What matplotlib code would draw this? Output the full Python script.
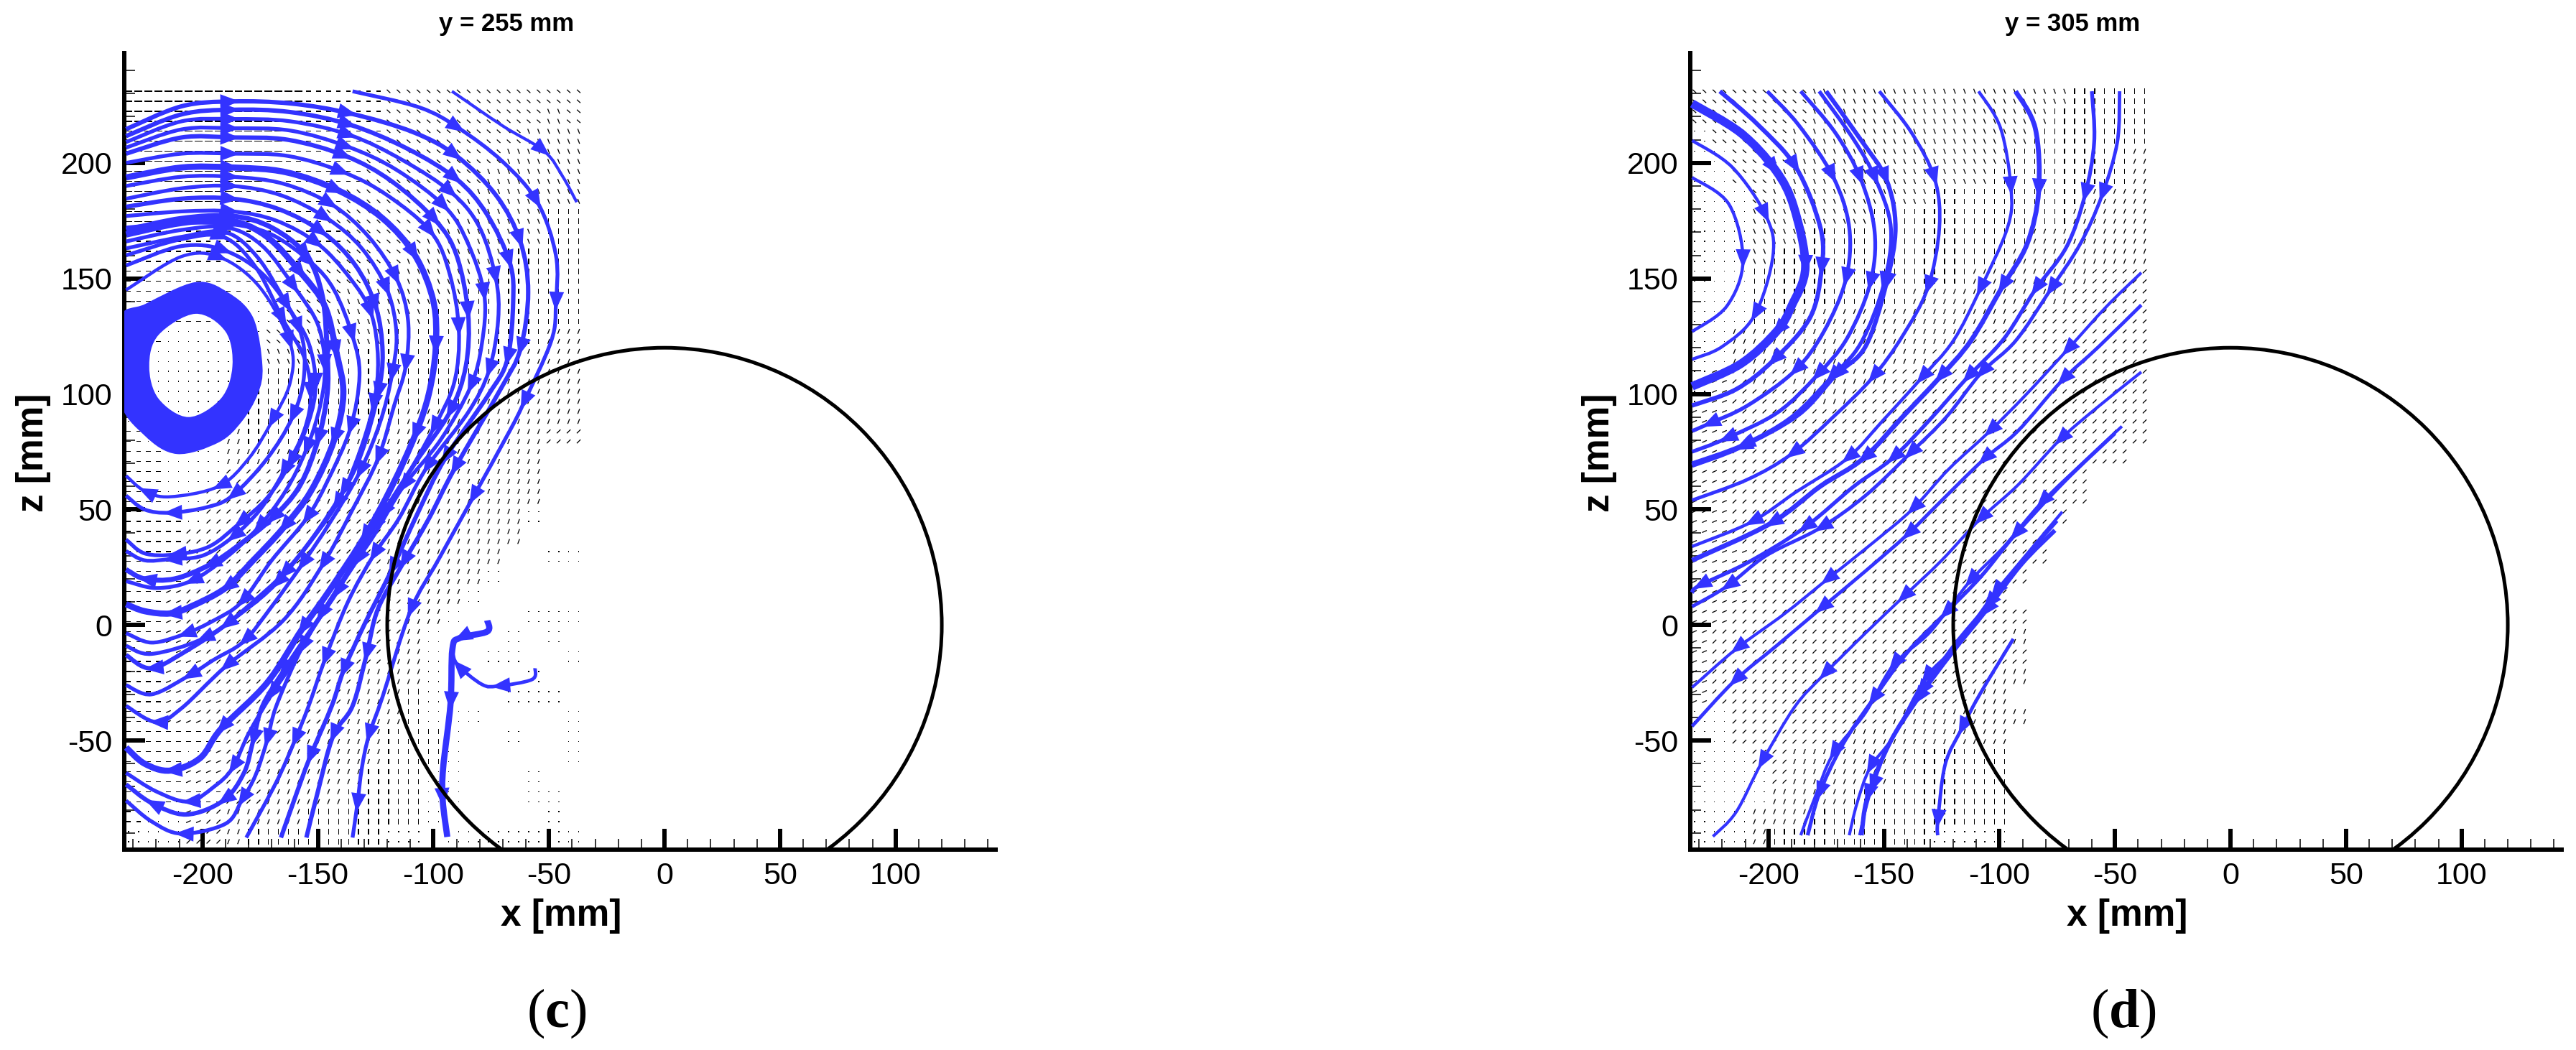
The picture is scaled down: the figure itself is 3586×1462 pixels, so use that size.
import numpy as np
import matplotlib
matplotlib.use('Agg')
import matplotlib.pyplot as plt
from matplotlib.path import Path
from matplotlib.patches import PathPatch, Circle
from matplotlib.ticker import MultipleLocator

plt.rcParams['font.family'] = ['Liberation Sans', 'DejaVu Sans']
plt.rcParams['mathtext.fontset'] = 'custom'
plt.rcParams['mathtext.rm'] = 'Liberation Serif'
plt.rcParams['mathtext.bf'] = 'Liberation Serif:bold'
plt.rcParams['axes.unicode_minus'] = False

BLUE = '#3333ff'

# Streamlines, (x, z) in mm
c_lines = [
    [(-92, 231), (-70, 216), (-52, 205), (-44, 194), (-38, 183)],
    [(-135, 231), (-106, 224), (-89, 215), (-70, 200.5), (-55, 183), (-47, 160), (-47, 139), (-49, 123), (-61, 96), (-67, 84), (-83, 55), (-98, 28), (-110, 6), (-122, -31), (-128, -48), (-131, -62), (-133, -78), (-135, -92)],
    [(-233, 214.6), (-209, 224.5), (-187, 226.6), (-161.6, 225.7), (-136, 221.4), (-109, 213.4), (-90, 203), (-72.7, 185.7), (-62.4, 166), (-59, 144), (-62.4, 119.3), (-71, 102), (-91, 67.4), (-102, 46), (-113, 27), (-124, 7), (-129, -13), (-135, -35), (-143.4, -48), (-150, -72), (-155, -92)],
    [(-233, 211.6), (-209, 221), (-187, 223), (-162, 222), (-136, 216.5), (-111, 206), (-90, 193), (-77, 178), (-67, 157), (-65.5, 140), (-68, 115), (-76, 100), (-95, 72), (-107, 48), (-118, 24), (-130, 0), (-139, -20), (-144, -35), (-153.6, -57.6), (-160, -75), (-166, -92)],
    [(-233, 209), (-209, 218), (-187, 219), (-162, 218), (-136, 212), (-113, 201), (-92, 187), (-80, 172), (-73, 150), (-72, 132), (-76, 110), (-85, 92), (-103, 68), (-115, 46), (-126, 30), (-137, 10), (-147, -15), (-154, -35), (-160, -50), (-168, -68), (-181, -92)],
    [(-233, 206.6), (-209, 214.5), (-187, 215), (-162, 214), (-137, 207), (-116, 197), (-95, 181), (-85, 165), (-78, 143), (-79, 122), (-84, 103), (-97, 80), (-113, 60), (-125, 40), (-133, 28), (-146, 8), (-157, -10), (-168, -35), (-172, -50), (-177, -65), (-183, -76), (-190, -86), (-209, -90.3), (-222, -85), (-233, -76)],
    [(-233, 204), (-209, 211), (-187, 211), (-163, 210), (-138, 203), (-118, 192), (-99, 175), (-90, 160), (-85, 135), (-86, 112), (-93, 92), (-108, 70), (-122, 48), (-133, 30), (-142, 14), (-155, -5), (-165, -20), (-174, -35), (-178, -50), (-182, -64), (-191, -76), (-207, -82), (-222, -77), (-233, -69)],
    [(-233, 200), (-209, 204), (-187, 204), (-163, 203), (-139, 196), (-120, 186), (-101, 170), (-93, 152), (-89, 128), (-91, 105), (-100, 85), (-113, 62), (-126, 42), (-139, 20), (-149, 4), (-160, -15), (-170, -30), (-180, -47), (-187, -62), (-195, -70), (-206, -76.4), (-220, -72), (-233, -64)],
    [(-233, 193.7), (-209, 198), (-187, 198), (-164, 196), (-141, 188), (-122, 176), (-108, 160), (-100, 140), (-99, 120), (-102, 100), (-108, 82), (-118, 60), (-130, 38), (-145, 15), (-157, -2), (-172, -25), (-192, -45), (-201, -57.6), (-214, -63), (-225, -60), (-233, -53)],
    [(-233, 190), (-209, 194), (-187, 194), (-165, 191), (-144, 182), (-128, 168), (-116, 150), (-111, 132), (-112, 112), (-117, 95), (-124, 72), (-135, 50), (-148, 26), (-165, 2), (-190, -18), (-209, -36), (-220, -42), (-233, -35)],
    [(-233, 184.5), (-209, 189), (-187, 190), (-166, 186), (-146, 176), (-131, 163), (-120, 145), (-116, 126), (-118, 108), (-123, 88), (-132, 66), (-145, 44), (-157, 26), (-170, 8), (-182, -7), (-195, -15), (-206, -22), (-222, -30), (-233, -26)],
    [(-233, 181), (-209, 184.5), (-187, 184.5), (-167, 180), (-148, 170), (-134, 156), (-125, 138), (-122, 118), (-124, 100), (-131, 75), (-139, 58), (-152, 38), (-165, 22), (-178, 10), (-190, 0), (-205, -10), (-222, -18.7), (-233, -13)],
    [(-233, 177), (-209, 179), (-187, 179), (-168, 175), (-150, 165), (-136, 150), (-127, 135), (-124, 115), (-126, 95), (-133, 72), (-142, 52), (-155, 34), (-168, 18), (-182, 6), (-200, -6), (-222, -12.5), (-233, -9)],
    [(-233, 172), (-209, 174), (-187, 173.4), (-170, 169), (-153, 157), (-143, 145), (-135, 125), (-132, 108), (-136, 85), (-146, 62), (-155, 46), (-170, 28), (-183, 10), (-195, 2), (-208, -4), (-222, -7.6), (-233, -3.5)],
    [(-233, 171), (-209, 176), (-187, 177), (-170, 172), (-155, 160), (-148, 142), (-146, 118), (-146, 100), (-150, 80), (-158, 60), (-170, 46), (-185, 34), (-197, 26), (-212, 20), (-225, 20), (-233, 24)],
    [(-233, 169), (-209, 174), (-188, 175), (-172, 168), (-157, 152), (-147, 138), (-142, 118), (-139, 100), (-143, 80), (-153, 58), (-165, 42), (-178, 28), (-190, 16), (-205, 8), (-214, 5), (-225, 6), (-233, 9)],
    [(-233, 166), (-209, 171), (-189, 172), (-174, 164), (-160, 146), (-150, 130), (-147, 112), (-149, 95), (-155, 76), (-164, 58), (-176, 42), (-190, 29), (-205, 19), (-220, 16), (-233, 19)],
    [(-233, 163), (-209, 168), (-190, 170), (-176, 159), (-163, 138), (-154, 122), (-151, 104), (-154, 88), (-162, 70), (-172, 55), (-184, 44), (-197, 34), (-212, 30.5), (-225, 31), (-233, 37)],
    [(-233, 160), (-209, 167), (-191, 168), (-177, 155), (-165, 132), (-156, 116), (-153, 100), (-156, 84), (-165, 66), (-175, 50), (-187, 38), (-200, 30), (-214, 28.5), (-225, 28), (-233, 32)],
    [(-233, 155.6), (-209, 164), (-190, 162), (-172, 150), (-158, 128), (-156, 108), (-161, 90), (-172, 72), (-187, 56), (-198, 51), (-214, 48.6), (-225, 50), (-233, 56)],
    [(-233, 145), (-209, 159.5), (-192, 159), (-175, 146), (-162, 122), (-162, 105), (-170, 88), (-180, 72), (-193, 60), (-214, 55.5), (-225, 58), (-233, 64.6)],
    [(-76.7, 2), (-76.7, -2.8), (-88.6, -5.6), (-91.8, -10.4), (-92.6, -34), (-95.8, -61.8), (-96, -75.7), (-94, -91.7)],
    [(-56, -18.7), (-57.4, -23.6), (-72, -26.4), (-79, -25.7), (-89.4, -17.4), (-91.8, -11.8)],
]
c_widths = [3, 3.8, 4.4, 4.4, 3.8, 3.8, 4.4, 3.8, 6.2, 3.8, 3.8, 4.4, 3.8, 3.8, 5, 6.2, 3.8, 3.8, 3.8, 3.8, 3.2, 6.2, 3.5]

d_lines = [
    [(-233, 193.7), (-217, 182), (-211, 157.4), (-218, 138), (-233, 127)],
    [(-233, 209.7), (-215.5, 198), (-201, 177), (-198, 160), (-206, 134), (-220, 120.5), (-233, 115)],
    [(-233, 225.7), (-212, 213), (-197, 197), (-189, 181), (-184, 155), (-190, 138), (-196.5, 127), (-212, 113), (-233, 103.3)],
    [(-221, 231), (-204.5, 216.5), (-188, 198), (-177.5, 172), (-177, 154), (-182, 133), (-198, 114.4), (-214, 102), (-233, 95)],
    [(-200.5, 231), (-187, 216.5), (-172, 194), (-165, 172), (-166.5, 149.5), (-176, 127), (-188.6, 110), (-209, 95), (-226, 87), (-233, 84)],
    [(-186, 231), (-171, 213), (-160, 193), (-154, 170), (-156, 147.6), (-166, 124), (-179, 108), (-196, 92), (-218.6, 80.6), (-233, 75)],
    [(-178, 231), (-163, 210), (-153.6, 193), (-147, 172), (-150, 147.6), (-160, 122), (-173, 107), (-190, 90), (-211, 78), (-233, 70)],
    [(-175, 231), (-160, 210), (-149, 193), (-145, 172), (-149, 147.6), (-158, 120.5), (-171, 108), (-187, 91), (-212, 77), (-233, 69)],
    [(-152, 231), (-138, 213), (-128, 193), (-126, 172), (-131, 146), (-142, 125), (-155, 107), (-172, 90), (-190, 74), (-209, 63), (-233, 54)],
    [(-109, 231), (-99.5, 215), (-95, 189), (-96.5, 172), (-108.5, 145), (-120, 123), (-134, 106.6), (-150, 89), (-166, 72), (-188, 57.6), (-207.5, 44.5), (-233, 34)],
    [(-93, 231), (-84.5, 215), (-83, 188), (-88, 165), (-99, 146), (-112.4, 123), (-126, 107), (-142, 90), (-159, 72), (-177.6, 60), (-199, 44), (-233, 28)],
    [(-60, 231), (-59, 209), (-63, 186), (-71, 163.6), (-84.6, 145), (-98, 124), (-114, 107), (-130, 89), (-146.5, 72), (-163, 60), (-184.6, 42), (-209, 27), (-230, 17), (-233, 14)],
    [(-48, 231), (-49, 209), (-55.6, 186), (-65, 165), (-78, 145), (-93, 123), (-108, 109), (-123, 90), (-139, 74), (-158, 56), (-177.6, 42), (-201, 30), (-218, 16.7), (-233, 8)],
    [(-38.6, 152.5), (-53.7, 137.8), (-71, 118.7), (-88.6, 99.6), (-104.5, 83.6), (-122, 67.4), (-137.8, 50), (-155, 35.4), (-175, 19.4), (-193, 4.9), (-214, -10.4), (-233, -27)],
    [(-38.6, 138.5), (-57, 120.5), (-73, 105.7), (-92, 84), (-107, 71.5), (-127.5, 51.4), (-140, 39), (-158.4, 23), (-177.5, 7), (-196.5, -9), (-214.8, -24.3), (-233, -43.8)],
    [(-38.6, 109.5), (-58.5, 93.5), (-74, 80), (-92, 60.6), (-108.5, 45.7), (-125, 28), (-142, 11.8), (-158, -3.5), (-176, -21.5), (-188.6, -35.4), (-203, -59.7), (-214, -81), (-224, -91.5)],
    [(-47, 86), (-62, 72), (-82, 52.8), (-98, 34), (-113, 18.7), (-130, -3), (-146, -17.4), (-158, -38), (-172, -55.8), (-180, -75), (-186, -91)],
    [(-50, 83), (-72, 62), (-93.4, 38.9), (-108, 21), (-123.6, 4.9), (-140, -12), (-155, -32.6), (-168, -52), (-178, -73), (-183, -91)],
    [(-72.8, 49), (-90, 28.5), (-102, 13.9), (-118.8, -9), (-132, -23), (-145.7, -48), (-156, -61.8), (-161.6, -77), (-165, -91)],
    [(-76, 41), (-90.4, 26.4), (-106, 6), (-120.4, -11.8), (-135.4, -32), (-147.3, -50.7), (-157, -74), (-159.7, -91)],
    [(-75, 45), (-89, 29), (-105, 9), (-120, -9), (-134, -29), (-147, -50), (-155, -70), (-158, -80), (-160.5, -91)],
    [(-94, -6), (-108.5, -30), (-116.4, -45), (-123.5, -60.4), (-126.7, -85), (-126.7, -91)],
]
d_widths = [3.2, 3.2, 8.5, 4.4, 3.8, 3.8, 3.8, 4.4, 3.5, 3.2, 4.8, 3.8, 3.5, 3, 3.5, 3, 3, 3.8, 3, 4.4, 3, 3.5]

# Ring at the vortex centre of panel (c), outer and inner edge
ring_outer = [(-236, 132), (-224.6, 139), (-203, 148.4), (-189, 144), (-178, 133), (-174, 112), (-176, 100), (-183, 88), (-193, 79), (-211, 74), (-225, 82), (-236, 98)]
ring_inner = [(-223, 112), (-219, 125.5), (-203, 134.7), (-190, 127), (-187, 112), (-192, 98), (-206, 90), (-219, 98)]

# Velocity vectors, one character per 2x2 block of the measuring grid, rows from the top
# = long horizontal, - horizontal, b shallow falling, S steep falling, | vertical,
# F steep rising, / rising, d shallow rising, . almost no length, blank no vector
c_field = [
    "=========----bbbbbbbbbb",
    "=========----bbbbbbbbSb",
    "========-----bbbbbbbSSS",
    "========----bbbbbbbSSSS",
    "=======-----bbbbbbSSSSS",
    "======-----bbbbbbSSSSSS",
    "=====-----bbbbbbSSSSS||",
    "-----------bbbbSSSSSS||",
    "----------bbbbSSSSS||||",
    "---------bbbSSSSSS|||||",
    "------.--bbSSSSSS||||||",
    "-----...bbSSSSS||||||||",
    "--.....bbSSSS||||||||FF",
    "......bSSSS|||||||||FFF",
    "......S|||||||||||FFFFF",
    "......|||||||||||FFFFFF",
    ".....F||||||||FFFFFFFFF",
    "-....F|||||FFFFFFFFFF//",
    "--...FFFFFFFFFFFFFFFF",
    "--.../////FFFFFFFFFFF",
    "--..//////FFFFFFFFFFF",
    "---./////////FFFFFFF.",
    "---//////////FFFFFFF",
    "---//////////FFFFFF  ..",
    "---//////////FFFFF.",
    "--d///////////FFF.",
    "--d///////////FF.   ...",
    "--d///////////F.   . .",
    "--dd/////////FF.  ..  .",
    "--dd////////FFF.    .",
    "--ddd//////FFF|.   ...",
    "--dd//////FFFF|...    .",
    "-----////FFFF|||.  .  .",
    "---.d///FFFFF|||.     .",
    "---dd//FFFFF|||..   .",
    "-----//FFFF||||..   ..",
    "-..d/FFFF||||||.     .",
    "...//F|||||||.. .......",
]
d_field = [
    "bbbbbbSSSSSSSSSSSSS||||",
    "bbbbbbSSSSSSSSSSSS|||||",
    ".bbbbSSSSSSSSSSSS||||||",
    "..bbbSSSSSSSSSSS||||||F",
    "..bbSSSSSSSSSSS|||||||F",
    "...bSSSSSSSS||||||||FFF",
    "...SSSSSS||||||||||FFFF",
    "...SSS|||||||||||FFFFFF",
    "...S||||||||||||FFFFFFF",
    "...|||||||||||FFFFFF///",
    "...||||||||FFFFFFFF////",
    "...||FFFFFFFFFFF///////",
    "..FFFFFFFFFFFF/////////",
    "..FFFFFFFFFF///////////",
    ".d/F/FFFFF/////////////",
    ".d////FF///////////////",
    "dd/////////////////////",
    "dd/////////////////////",
    "dd////////////////////",
    "dd//////////////////",
    "dd//////////////////",
    "dd/////////////////",
    "dd////////////////",
    "ddd///////////////",
    "ddd//////////////",
    "ddd/////////////",
    "dd///////////////",
    "d///////////////F",
    "d////////////////",
    "d//////////////FF",
    "d/////////////FF",
    "..////////FFFFFFF",
    "..//////FFFFFFFF",
    "...//FFFFFF|||||",
    "..../FFFFF||||||",
    "....FFFF||||||||",
    "...FFF||||||||||",
    "...F||||||||....",
]
field_u = {'=': 3.4, '-': 2.0, 'b': 1.5, 'S': 0.8, '|': 0.0, 'F': -0.8, '/': -1.6, 'd': -2.0, '.': 0.5}
field_w = {'=': 0.0, '-': 0.0, 'b': -1.4, 'S': -2.1, '|': -2.3, 'F': -2.1, '/': -1.6, 'd': -0.9, '.': 0.0}

grid_x0, grid_z0, grid_step = -232.0, 231.0, 4.33

x_major = [-200, -150, -100, -50, 0, 50, 100]
z_major = [-50, 0, 50, 100, 150, 200]
sections = ['y = 255 mm', 'y = 305 mm']
panels = ['($\\mathbf{c}$)', '($\\mathbf{d}$)']


def smooth_path(pts, closed=False):
    # Curve through the read points, Catmull-Rom written as cubic Bezier segments
    p = np.array(pts, dtype=float)
    n = len(p)
    verts, codes = [p[0]], [Path.MOVETO]
    for i in range(n if closed else n - 1):
        if closed:
            p0, p1, p2, p3 = p[(i - 1) % n], p[i], p[(i + 1) % n], p[(i + 2) % n]
        else:
            p0, p1, p2, p3 = p[max(i - 1, 0)], p[i], p[i + 1], p[min(i + 2, n - 1)]
        verts += [p1 + (p2 - p0) / 6, p2 - (p3 - p1) / 6, p2]
        codes += [Path.CURVE4] * 3
    return verts, codes


def draw_field(ax, field):
    xs, zs, us, ws = [], [], [], []
    for i, row in enumerate(field):
        for j, ch in enumerate(row):
            if ch == ' ':
                continue
            for a in range(2):
                for b in range(2):
                    xs.append(grid_x0 + (2 * j + b) * grid_step)
                    zs.append(grid_z0 - (2 * i + a) * grid_step)
                    us.append(field_u[ch])
                    ws.append(field_w[ch])
    ax.quiver(xs, zs, us, ws, angles='xy', scale_units='xy', scale=1, pivot='mid',
              units='dots', width=1.3, headwidth=1, headlength=0, headaxislength=0,
              minlength=0, color='black', zorder=2)


def draw_lines(ax, lines, widths):
    for pts, lw in zip(lines, widths):
        verts, codes = smooth_path(pts)
        ax.add_patch(PathPatch(Path(verts, codes), fill=False, ec=BLUE, lw=lw, zorder=3,
                               capstyle='butt'))
        p = np.array(pts, dtype=float)
        for k in range(2, len(p) - 1, 2):
            d = p[k + 1] - p[k - 1]
            d = d / np.hypot(*d)
            ax.annotate('', xy=p[k] + d * 3, xytext=p[k] - d * 5, zorder=4,
                        arrowprops=dict(arrowstyle='-|>,head_length=19,head_width=7.5',
                                        mutation_scale=1, lw=0, color=BLUE,
                                        shrinkA=0, shrinkB=0))


fig = plt.figure(figsize=(35.87, 14.62), dpi=100)
W, H = 3587.0, 1462.0

axes = []
for left in [173, 2353]:
    ax = fig.add_axes([left / W, 1 - 1183 / H, 1213 / W, 1109 / H])
    ax.set_xlim(-233.8, 143.3)
    ax.set_ylim(-97.2, 247.5)
    ax.spines['top'].set_visible(False)
    ax.spines['right'].set_visible(False)
    ax.spines['left'].set_linewidth(4.3)
    ax.spines['bottom'].set_linewidth(4.3)
    ax.set_xticks(x_major)
    ax.set_yticks(z_major)
    ax.xaxis.set_minor_locator(MultipleLocator(10))
    ax.yaxis.set_minor_locator(MultipleLocator(10))
    ax.tick_params(which='major', direction='in', length=21, width=4.3, labelsize=31, pad=12)
    ax.tick_params(which='minor', direction='in', length=11, width=1.1)
    ax.add_patch(Circle((0, 0), 120, fill=False, ec='black', lw=3.6, zorder=5))
    axes.append(ax)

draw_field(axes[0], c_field)
draw_field(axes[1], d_field)
draw_lines(axes[0], c_lines, c_widths)
draw_lines(axes[1], d_lines, d_widths)

v1, c1 = smooth_path(ring_outer, closed=True)
v2, c2 = smooth_path(ring_inner[::-1], closed=True)
axes[0].add_patch(PathPatch(Path(v1 + v2, c1 + c2), fc=BLUE, ec='none', zorder=3))

for off, sec, lab, xl in zip([0, 2180], sections, panels, [775, 2956]):
    fig.text((705 + off) / W, 1 - 34 / H, sec, fontsize=25, fontweight='bold', ha='center', va='center')
    fig.text((781 + off) / W, 1 - 1276 / H, 'x [mm]', fontsize=37, fontweight='bold', ha='center', va='center')
    fig.text((47 + off) / W, 1 - 630 / H, 'z [mm]', fontsize=37, fontweight='bold', ha='center', va='center', rotation=90)
    fig.text(xl / W, 1 - 1411 / H, lab, fontsize=55, family='Liberation Serif', ha='center', va='center')

fig.savefig('out.png', dpi=100)
